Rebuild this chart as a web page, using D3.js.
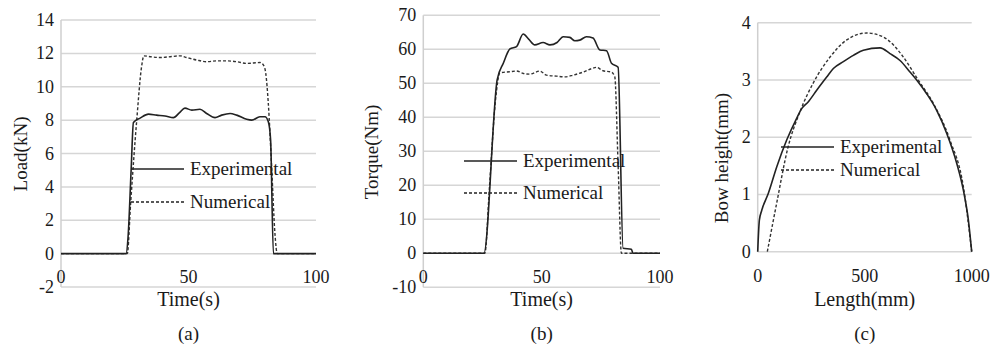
<!DOCTYPE html>
<html>
<head>
<meta charset="utf-8">
<script src="https://cdn.jsdelivr.net/npm/d3@7"></script>
<style>
  body { margin: 0; background: #fff; }
  svg text { font-family: 'Liberation Serif', 'Times New Roman', Times, serif !important; fill: #1a1a1a; }
</style>
</head>
<body>
<svg width="1003" height="350" font-family="Liberation Serif, serif"></svg>
<script>
// ---- data ----
var loadExpTime = [0, 25.5, 26.3, 27.5, 28.4, 31, 34.3, 37.5, 40.8, 44.1, 46.5, 48.6, 51.3, 54.5, 57.1, 60.4, 63, 66.3, 68.9, 72.8, 74.8, 78, 80, 81.3, 82.2, 83.3, 100];
var loadExp     = [0, 0, 1, 5, 7.86, 8.12, 8.36, 8.3, 8.25, 8.15, 8.45, 8.72, 8.6, 8.65, 8.4, 8.15, 8.3, 8.4, 8.3, 8.05, 8.0, 8.2, 8.2, 7.9, 6.8, 0, 0];
var loadNumTime = [0, 26, 27.3, 29.7, 31.6, 32.5, 35, 38.9, 42.8, 46.7, 49.3, 53.2, 57.1, 61, 65, 68.9, 72.8, 78, 79.4, 80.3, 81.3, 82.6, 83.9, 84.8, 100];
var loadNum     = [0, 0, 3, 8, 11.2, 11.85, 11.8, 11.75, 11.8, 11.85, 11.75, 11.6, 11.5, 11.55, 11.55, 11.5, 11.4, 11.45, 11.3, 10.8, 9.0, 5.2, 1.2, 0, 0];

var torqueExpTime = [0, 25.6, 31.2, 33.8, 36.6, 39.4, 42.2, 44.5, 47.1, 50.6, 53.5, 56.5, 59.1, 61.9, 64, 66.1, 68.9, 71.7, 74.6, 77.4, 79.5, 82.3, 84.4, 87.9, 88.6, 100];
var torqueExp     = [0, 0, 51, 55.9, 60.1, 60.8, 64.5, 63, 61.3, 62, 61.3, 62, 63.7, 63.5, 62.5, 62.7, 63.7, 63.3, 59.8, 59.6, 55.9, 54.7, 1.5, 1.2, 0, 0];
var torqueNumTime = [0, 26, 28, 30.5, 32.4, 36.6, 39.4, 42.2, 45, 49.2, 52, 56.2, 59.8, 63.3, 67.5, 71, 73.1, 75.9, 79.5, 80.9, 82.3, 83.7, 100];
var torqueNum     = [0, 0, 20, 45, 53.1, 53.4, 53.6, 52.9, 52.7, 53.6, 52.4, 52.1, 51.9, 52.4, 53.3, 54.3, 54.7, 53.7, 53.3, 51.9, 26, 0, 0];

var bowExpLength = [0, 7.8, 18.7, 49.8, 88.8, 135.5, 182, 205.6, 236.8, 275.7, 322.4, 353.6, 400.3, 447, 493.6, 571.6, 618.2, 665, 711.7, 742.8, 789.5, 836.3, 883, 929.6, 960.8, 984.2, 1000];
var bowExp       = [0, 0.55, 0.72, 1.02, 1.48, 1.95, 2.33, 2.5, 2.62, 2.82, 3.05, 3.2, 3.32, 3.43, 3.52, 3.56, 3.46, 3.34, 3.14, 3.0, 2.76, 2.47, 2.07, 1.55, 1.08, 0.56, 0];
var bowNumLength = [45, 88.8, 140, 198, 260, 338, 416, 509.7, 587, 680.6, 742.8, 820.6, 898.5, 960.8, 1000];
var bowNum       = [0, 0.85, 1.8, 2.45, 2.95, 3.4, 3.7, 3.82, 3.75, 3.4, 3.04, 2.59, 1.95, 1.14, 0];

var loadTicks = [-2, 0, 2, 4, 6, 8, 10, 12, 14];
var torqueTicks = [-10, 0, 10, 20, 30, 40, 50, 60, 70];
var bowTicks = [0, 1, 2, 3, 4];
var timeTicks = [0, 50, 100];
var lengthTicks = [0, 500, 1000];
var seriesNames = ["Experimental", "Numerical"];

// ---- layout ----
var svg = d3.select("svg");
var serif = "'Liberation Serif', 'Times New Roman', Times, serif";

var panels = [
  { x: d3.scaleLinear().domain([0, 100]).range([61, 316]),
    y: d3.scaleLinear().domain([-2, 14]).range([287, 20]),
    yTicks: loadTicks, xTicks: timeTicks, xLabelY: 283,
    yTitle: "Load(kN)", yTitleX: 27, yTitleY: 154, xTitle: "Time(s)", tag: "(a)",
    exp: [loadExpTime, loadExp], num: [loadNumTime, loadNum],
    legX: 131, legY: 169, legGap: 33 },
  { x: d3.scaleLinear().domain([0, 100]).range([423.3, 660]),
    y: d3.scaleLinear().domain([-10, 70]).range([287.3, 15.3]),
    yTicks: torqueTicks, xTicks: timeTicks, xLabelY: 283,
    yTitle: "Torque(Nm)", yTitleX: 378, yTitleY: 152, xTitle: "Time(s)", tag: "(b)",
    exp: [torqueExpTime, torqueExp], num: [torqueNumTime, torqueNum],
    legX: 464, legY: 161, legGap: 32 },
  { x: d3.scaleLinear().domain([0, 1000]).range([757.7, 971.7]),
    y: d3.scaleLinear().domain([0, 4]).range([251.7, 22.7]),
    yTicks: bowTicks, xTicks: lengthTicks, xLabelY: 282,
    yTitle: "Bow height(mm)", yTitleX: 728, yTitleY: 158, xTitle: "Length(mm)", tag: "(c)",
    exp: [bowExpLength, bowExp], num: [bowNumLength, bowNum],
    legX: 781, legY: 147, legGap: 23 }
];

function pairs(xs, ys) {
  return xs.map(function(d, i) { return [d, ys[i]]; });
}

panels.forEach(function(p) {
  var g = svg.append("g").attr("font-family", serif);
  var x0 = p.x.range()[0], x1 = p.x.range()[1];
  var yMin = p.y.domain()[0], yMax = p.y.domain()[1];

  // gridlines
  g.selectAll(".grid").data(p.yTicks).enter().append("line")
    .attr("x1", x0).attr("x2", x1)
    .attr("y1", function(d) { return p.y(d); })
    .attr("y2", function(d) { return p.y(d); })
    .attr("stroke", "#d6d6d6").attr("stroke-width", 1.5);

  // vertical axis
  g.append("line")
    .attr("x1", x0).attr("x2", x0)
    .attr("y1", p.y(yMax)).attr("y2", p.y(yMin))
    .attr("stroke", "#cfcfcf").attr("stroke-width", 1.5);

  // y tick labels
  g.selectAll(".yl").data(p.yTicks).enter().append("text")
    .attr("x", x0 - 7)
    .attr("y", function(d) { return p.y(d) + 6; })
    .attr("text-anchor", "end")
    .style("font-family", serif)
    .style("font-size", "18px")
    .text(function(d) { return d; });

  // x tick labels
  g.selectAll(".xl").data(p.xTicks).enter().append("text")
    .attr("x", function(d) { return p.x(d); })
    .attr("y", p.xLabelY)
    .attr("text-anchor", "middle")
    .style("font-family", serif)
    .style("font-size", "18px")
    .text(function(d) { return d; });

  // titles
  g.append("text")
    .attr("transform", "translate(" + p.yTitleX + "," + p.yTitleY + ") rotate(-90)")
    .attr("text-anchor", "middle")
    .style("font-family", serif)
    .style("font-size", "19px")
    .text(p.yTitle);

  var cx = (x0 + x1) / 2;
  g.append("text").attr("x", cx).attr("y", 306)
    .attr("text-anchor", "middle").style("font-family", serif)
    .style("font-size", "20px").text(p.xTitle);
  g.append("text").attr("x", cx).attr("y", 340)
    .attr("text-anchor", "middle").style("font-family", serif)
    .style("font-size", "19px").text(p.tag);

  // series
  var line = d3.line()
    .x(function(d) { return p.x(d[0]); })
    .y(function(d) { return p.y(d[1]); })
    .curve(d3.curveMonotoneX);

  g.append("path").datum(pairs(p.num[0], p.num[1]))
    .attr("d", line).attr("fill", "none")
    .attr("stroke", "#333").attr("stroke-width", 1.4)
    .attr("stroke-dasharray", "3,2");

  g.append("path").datum(pairs(p.exp[0], p.exp[1]))
    .attr("d", line).attr("fill", "none")
    .attr("stroke", "#222").attr("stroke-width", 1.6);

  // legend
  seriesNames.forEach(function(name, i) {
    var ly = p.legY + i * p.legGap;
    g.append("line")
      .attr("x1", p.legX).attr("x2", p.legX + 53)
      .attr("y1", ly).attr("y2", ly)
      .attr("stroke", "#222")
      .attr("stroke-width", i === 0 ? 1.6 : 1.4)
      .attr("stroke-dasharray", i === 0 ? null : "3,2");
    g.append("text")
      .attr("x", p.legX + 59).attr("y", ly + 6)
      .style("font-family", serif)
      .style("font-size", "19px")
      .text(name);
  });
});
</script>
</body>
</html>
